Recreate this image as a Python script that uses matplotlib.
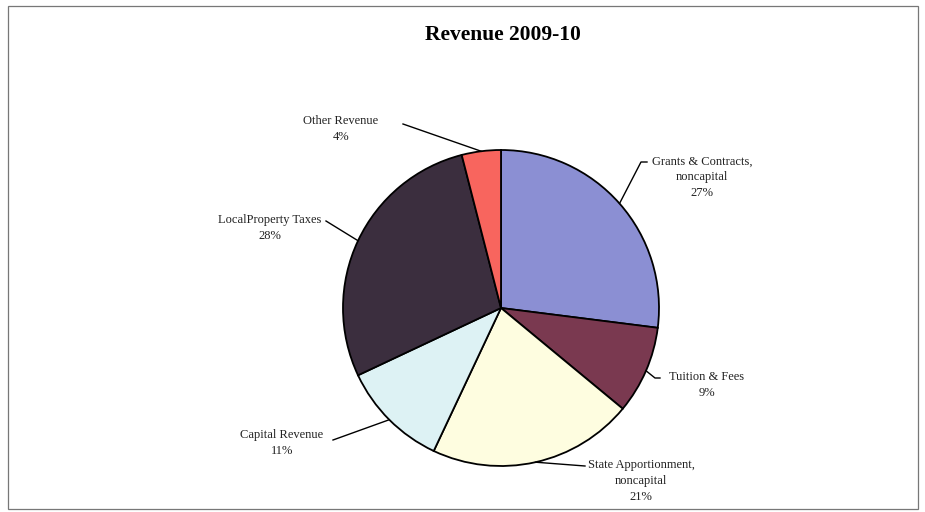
import matplotlib.pyplot as plt
import numpy as np
from matplotlib.patches import Rectangle

# revenue shares (percent), clockwise from 12 o'clock
labels = ['Grants & Contracts,\nnoncapital', 'Tuition & Fees', 'State Apportionment,\nnoncapital',
          'Capital Revenue', 'LocalProperty Taxes', 'Other Revenue']
shares = [27, 9, 21, 11, 28, 4]
colors = ['#8b8fd3', '#7a3950', '#fefde0', '#ddf2f4', '#3b2e3e', '#f8655e']

# label centre (px) and leader end (px), measured from top-left of the canvas
label_pos = [(702, 177), (707, 385), (641, 481), (282, 443), (270, 228), (341, 129)]
leader_end = [[(641, 162), (647, 162)], [(655, 378), (660, 378)], [(585, 466)],
              [(333, 440)], [(326, 221)], [(403, 124)]]

W, H = 925, 512
cx, cy, r = 501, 308, 158

fig = plt.figure(figsize=(W / 100, H / 100), dpi=100)
ax = fig.add_axes([0, 0, 1, 1])

wedges, _ = ax.pie(shares, colors=colors, startangle=90, counterclock=False,
                   center=(cx, H - cy), radius=r, frame=True,
                   wedgeprops=dict(edgecolor='black', linewidth=1.3))
ax.set_xlim(0, W)
ax.set_ylim(0, H)
ax.set_aspect('equal')
ax.axis('off')

font = dict(family='Liberation Serif', fontsize=9, color='#222222')
for w, lab, val, (tx, ty), pts in zip(wedges, labels, shares, label_pos, leader_end):
    ang = np.deg2rad((w.theta1 + w.theta2) / 2)
    ex = cx + r * np.cos(ang)
    ey = (H - cy) + r * np.sin(ang)
    xs = [ex] + [p[0] for p in pts]
    ys = [ey] + [H - p[1] for p in pts]
    ax.plot(xs, ys, color='black', lw=1.0)
    ax.text(tx, H - ty, f'{lab}\n{val}%', ha='center', va='center',
            multialignment='center', linespacing=1.4, **font)

ax.text(503, H - 35, 'Revenue 2009-10', ha='center', va='center',
        family='Liberation Serif', fontsize=15.5, fontweight='bold')

ax.add_patch(Rectangle((8, 3), 910, 503, fill=False, edgecolor='#777777', lw=0.9))

fig.savefig('out.png', dpi=100)
